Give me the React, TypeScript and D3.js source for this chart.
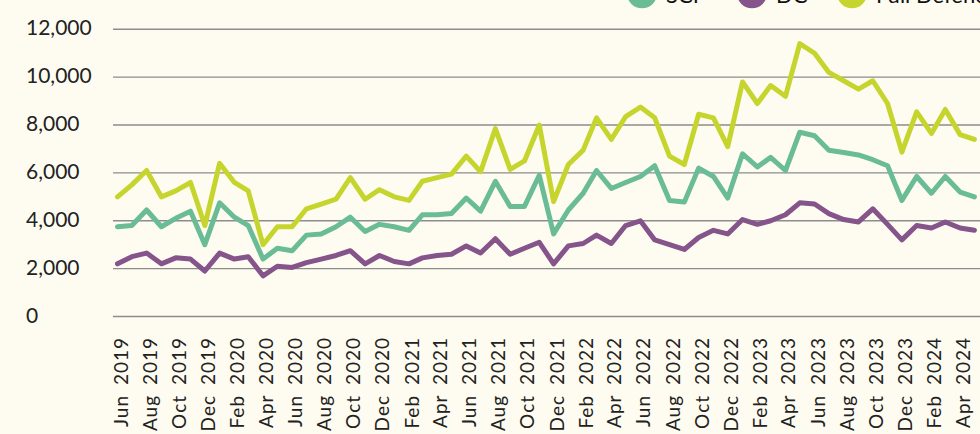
import * as d3 from "d3";

// monthly values, Jun 2019 .. May 2024
const startMonth = new Date(2019, 5, 1);

const scpValues = [
  3750, 3800, 4450, 3750, 4100, 4400, 3000, 4750, 4150, 3800,
  2400, 2850, 2750, 3400, 3450, 3750, 4150, 3550, 3850, 3750,
  3600, 4250, 4250, 4300, 4950, 4400, 5650, 4600, 4600, 5900,
  3450, 4450, 5150, 6100, 5350, 5600, 5850, 6300, 4850, 4780,
  6200, 5850, 4950, 6800, 6250, 6650, 6100, 7700, 7550, 6950,
  6850, 6750, 6550, 6300, 4850, 5850, 5150, 5850, 5200, 5000,
];

const dcValues = [
  2200, 2500, 2650, 2200, 2450, 2400, 1900, 2650, 2400, 2500,
  1700, 2100, 2050, 2250, 2400, 2550, 2750, 2200, 2550, 2300,
  2200, 2450, 2550, 2600, 2950, 2650, 3250, 2600, 2850, 3100,
  2200, 2950, 3050, 3400, 3050, 3800, 4000, 3200, 3000, 2800,
  3300, 3600, 3450, 4050, 3850, 4000, 4250, 4750, 4700, 4300,
  4050, 3950, 4500, 3850, 3200, 3800, 3700, 3950, 3700, 3600,
];

const fullValues = [
  5000, 5500, 6100, 5000, 5250, 5600, 3800, 6400, 5600, 5250,
  3000, 3750, 3750, 4500, 4700, 4900, 5800, 4900, 5300, 5000,
  4850, 5650, 5800, 5950, 6700, 6050, 7850, 6150, 6500, 8000,
  4800, 6350, 6950, 8300, 7400, 8350, 8750, 8300, 6700, 6350,
  8450, 8300, 7100, 9800, 8900, 9650, 9200, 11400, 11000, 10200,
  9850, 9500, 9850, 8900, 6870, 8550, 7650, 8650, 7600, 7400,
];

const seriesNames = ["SCF", "DC", "Full Defence"];
const seriesColors = ["#69bc95", "#84548a", "#c6d52d"];
const yTicks = [0, 2000, 4000, 6000, 8000, 10000, 12000];

const W = 980;
const H = 434;
const font = "Lato, 'DejaVu Sans', sans-serif";

export default function App() {
  const months = scpValues.map((_, i) => d3.timeMonth.offset(startMonth, i));
  const series = [scpValues, dcValues, fullValues];

  const x = d3
    .scaleTime()
    .domain([months[0], months[months.length - 1]])
    .range([117.5, 974.4]);
  const y = d3.scaleLinear().domain([0, 12000]).range([316.5, 29.3]);

  const line = d3
    .line<number>()
    .x((_, i) => x(months[i]))
    .y((d) => y(d));

  // a label every other month, starting with the first
  const xTicks = months.filter((_, i) => i % 2 === 0);
  const fmt = d3.timeFormat("%b %Y");
  const yFmt = d3.format(",");

  return (
    <div style={{ position: "fixed", left: 0, top: 0, width: W, height: H, background: "#fefcf1" }}>
      <svg width={W} height={H} style={{ display: "block" }}>
        <rect width={W} height={H} fill="#fefcf1" />

        {/* grid + y labels */}
        {yTicks.map((t) => (
          <g key={t}>
            <line x1={113} x2={W} y1={y(t)} y2={y(t)} stroke="#8c8c8c" strokeWidth={1.4} />
            <text x={26} y={y(t) + 6} fontFamily={font} fontSize={21} fill="#222">
              {yFmt(t)}
            </text>
          </g>
        ))}

        {/* x labels */}
        {xTicks.map((d) => (
          <text
            key={+d}
            transform={`translate(${x(d) + 10},337) rotate(-90)`}
            textAnchor="end"
            fontFamily={font}
            fontSize={19}
            letterSpacing={1}
            wordSpacing={4}
            fill="#222"
          >
            {fmt(d)}
          </text>
        ))}

        {/* lines */}
        {series.map((s, k) => (
          <path
            key={k}
            d={line(s) ?? ""}
            fill="none"
            stroke={seriesColors[k]}
            strokeWidth={5}
            strokeLinejoin="round"
            strokeLinecap="round"
          />
        ))}

        {/* legend (cut off at top) */}
        {seriesNames.map((n, k) => {
          const lx = [642, 752, 852][k];
          return (
            <g key={n}>
              <circle cx={lx} cy={-6.7} r={15} fill={seriesColors[k]} />
              <text x={lx + 24} y={3} fontFamily={font} fontSize={22} fill="#111">
                {n}
              </text>
            </g>
          );
        })}
      </svg>
    </div>
  );
}
